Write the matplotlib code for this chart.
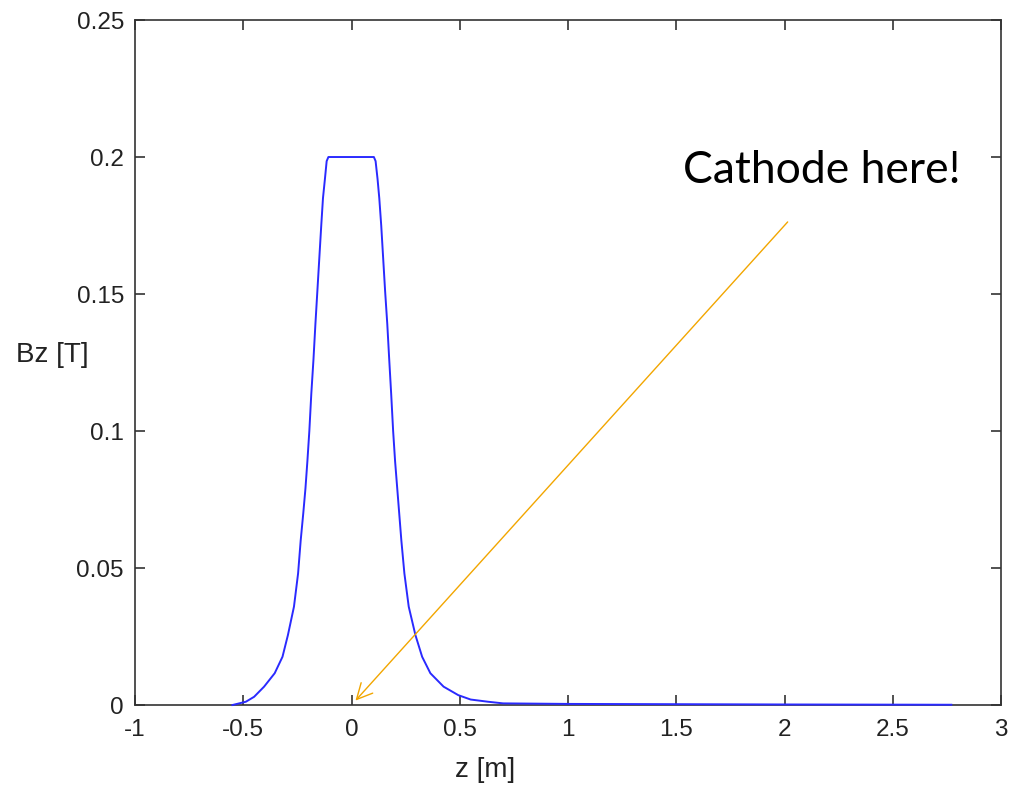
import matplotlib
matplotlib.use("Agg")
import matplotlib.pyplot as plt

# Bz profile along the axis
z = [-0.55, -0.488, -0.45, -0.404, -0.355, -0.319, -0.294, -0.266, -0.247, -0.235,
     -0.223, -0.213, -0.204, -0.195, -0.186, -0.176, -0.167, -0.158, -0.149, -0.140,
     -0.132, -0.123, -0.115, -0.107,
     0.103, 0.111, 0.120, 0.128, 0.137, 0.146, 0.155, 0.165, 0.174, 0.183,
     0.192, 0.201, 0.211, 0.220, 0.230, 0.244, 0.264, 0.295, 0.326, 0.364,
     0.425, 0.493, 0.55, 0.63, 0.70, 1.0, 1.5, 2.0, 2.77]
bz = [0.0, 0.0012, 0.003, 0.0067, 0.0116, 0.0176, 0.0255, 0.0359, 0.048, 0.060,
      0.070, 0.079, 0.089, 0.100, 0.1135, 0.126, 0.139, 0.151, 0.163, 0.175,
      0.185, 0.192, 0.1985, 0.2,
      0.2, 0.1985, 0.192, 0.185, 0.175, 0.163, 0.151, 0.139, 0.126, 0.1135,
      0.100, 0.089, 0.079, 0.070, 0.060, 0.048, 0.0359, 0.0255, 0.0176, 0.0116,
      0.0067, 0.0036, 0.002, 0.0012, 0.0006, 0.0004, 0.0003, 0.0002, 0.0001]

xticks = [-1, -0.5, 0, 0.5, 1, 1.5, 2, 2.5, 3]
xlabels = ["-1", "-0.5", "0", "0.5", "1", "1.5", "2", "2.5", "3"]
yticks = [0, 0.05, 0.1, 0.15, 0.2, 0.25]
ylabels = ["0", "0.05", "0.1", "0.15", "0.2", "0.25"]

arrow_tail = (2.014, 0.1763)
arrow_head = (0.018, 0.0016)
note = "Cathode here!"

plt.rcParams['font.family'] = ['Liberation Sans', 'DejaVu Sans']

fig = plt.figure(figsize=(10.13, 7.91), dpi=100)
ax = fig.add_axes([0.1333, 0.1087, 0.855, 0.866])

ax.plot(z, bz, color="#2a2aff", lw=1.4, zorder=3, clip_on=False)

ax.set_xlim(-1, 3)
ax.set_ylim(0, 0.25)
ax.set_xticks(xticks)
ax.set_xticklabels(xlabels)
ax.set_yticks(yticks)
ax.set_yticklabels(ylabels)
ax.tick_params(direction="in", top=True, right=True, length=7, width=1.1,
               labelsize=17.5, colors="#222222")
ax.tick_params(axis="x", pad=10)
ax.tick_params(axis="y", pad=8)
for s in ax.spines.values():
    s.set_linewidth(1.2)
    s.set_color("#333333")

ax.set_xlabel("z [m]", fontsize=20, color="#222222")
ax.xaxis.set_label_coords(0.404, -0.076)
ax.set_ylabel("Bz [T]", fontsize=20, rotation=0, ha="center", va="center", color="#222222")
ax.yaxis.set_label_coords(-0.0956, 0.511)

ax.annotate("", xy=arrow_head, xytext=arrow_tail,
            arrowprops=dict(arrowstyle="->", color="#f2a600", lw=1.0,
                            mutation_scale=28, shrinkA=0, shrinkB=0))
ax.text(1.53, 0.195, note, fontsize=32, family=["Lato", "DejaVu Sans"],
        ha="left", va="center", color="black")

fig.savefig("out.png", dpi=100)
